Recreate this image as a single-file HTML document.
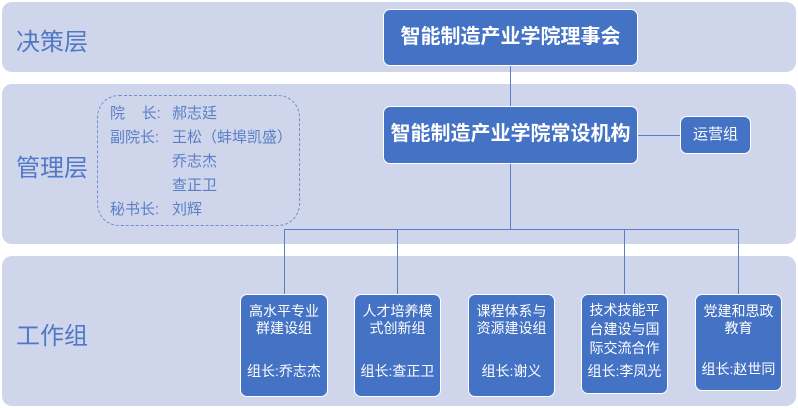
<!DOCTYPE html>
<html><head><meta charset="utf-8"><style>
body{margin:0;width:798px;height:408px;background:#fff;position:relative;overflow:hidden;font-family:"Liberation Sans","Noto Sans CJK SC",sans-serif}
.band{position:absolute;left:2px;width:794px;background:#cfd5ea;border-radius:10px}
.lbl{position:absolute;left:16px;font-size:24px;color:#4f79c6}
.box{position:absolute;background:#4472c4;border:1.5px solid #fff;border-radius:7px;color:#fff;box-sizing:border-box;text-align:center}
.ln{position:absolute;background:#5b7fc4}
.g{font-size:14px;line-height:17px;padding-top:8px}
.g .b{position:absolute;left:0;right:0;bottom:16px}
.info{position:absolute;left:97px;top:95px;width:203px;height:131px;border:1.5px dashed #6f8fd0;border-radius:22px;box-sizing:border-box;font-size:15px;color:#5a7fc8;line-height:24px}
</style></head><body>
<div class="band" style="top:2px;height:70px"></div>
<div class="band" style="top:84px;height:160px"></div>
<div class="band" style="top:256px;height:150px"></div>
<div class="lbl" style="top:22px">决策层</div>
<div class="lbl" style="top:148px">管理层</div>
<div class="lbl" style="top:316px">工作组</div>
<div class="info">
<div style="position:absolute;left:12px;top:6px;white-space:pre">院    长:
副院长:
 
 
秘书长:</div>
<div style="position:absolute;left:74px;top:6px;white-space:pre">郝志廷
王松（蚌埠凯盛）
乔志杰
查正卫
刘辉</div>
</div>
<div class="ln" style="left:510px;top:66px;width:1px;height:163px"></div>
<div class="ln" style="left:638px;top:135px;width:42px;height:1px"></div>
<div class="ln" style="left:284px;top:229px;width:455px;height:1px"></div>
<div class="ln" style="left:284px;top:229px;width:1px;height:65px"></div>
<div class="ln" style="left:397px;top:229px;width:1px;height:65px"></div>
<div class="ln" style="left:624px;top:229px;width:1px;height:65px"></div>
<div class="ln" style="left:738px;top:229px;width:1px;height:65px"></div>
<div class="box" style="left:383px;top:9px;width:255px;height:57px;font-size:20px;font-weight:bold;line-height:54px">智能制造产业学院理事会</div>
<div class="box" style="left:383px;top:106px;width:255px;height:58px;font-size:20px;font-weight:bold;line-height:55px">智能制造产业学院常设机构</div>
<div class="box" style="left:680px;top:116px;width:71px;height:38px;font-size:15px;line-height:35px">运营组</div>
<div class="box g" style="left:240px;top:294px;width:88px;height:103px">高水平专业<br>群建设组<div class="b">组长:乔志杰</div></div>
<div class="box g" style="left:354px;top:294px;width:87px;height:103px">人才培养模<br>式创新组<div class="b">组长:查正卫</div></div>
<div class="box g" style="left:468px;top:294px;width:87px;height:103px">课程体系与<br>资源建设组<div class="b">组长:谢义</div></div>
<div class="box g" style="left:581px;top:294px;width:87px;height:100px;line-height:19px;padding-top:6px">技术技能平<br>台建设与国<br>际交流合作<div class="b" style="bottom:12px">组长:李凤光</div></div>
<div class="box g" style="left:695px;top:294px;width:87px;height:97px">党建和思政<br>教育<div class="b" style="bottom:12px">组长:赵世同</div></div>
</body></html>
